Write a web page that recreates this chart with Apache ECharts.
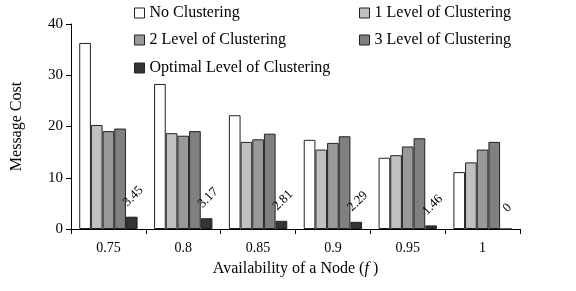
<!DOCTYPE html>
<html><head><meta charset="utf-8">
<script src="https://cdn.jsdelivr.net/npm/echarts@6/dist/echarts.min.js"></script>
<style>html,body{margin:0;padding:0;background:#fff}#c{width:576px;height:291px}</style>
</head><body><div id="c"></div>
<script>
const categories = ['0.75','0.8','0.85','0.9','0.95','1'];
const noClustering = [36.3, 28.3, 22.2, 17.4, 13.9, 11.1];
const level1 = [20.3, 18.7, 17.0, 15.5, 14.4, 13.0];
const level2 = [19.1, 18.2, 17.5, 16.8, 16.1, 15.5];
const level3 = [19.6, 19.1, 18.6, 18.1, 17.7, 17.0];
const optimal = [2.4, 2.1, 1.6, 1.4, 0.7, 0];
const optimalLabels = ['3.45','3.17','2.81','2.29','1.46','0'];
const yTicks = [0, 10, 20, 30, 40];

const FONT = '"Liberation Serif", "Times New Roman", serif';
const names = ['No Clustering','1 Level of Clustering','2 Level of Clustering','3 Level of Clustering','Optimal Level of Clustering'];
const colors = ['#ffffff','#c0c0c0','#999999','#808080','#333333'];
const datas = [noClustering, level1, level2, level3, optimal];
const legendPos = [[134,5],[359,5],[134,32],[359,32],[134,60]];

const chart = echarts.init(document.getElementById('c'));
const series = datas.map((d,i)=>({
  name: names[i], type:'bar', data: d, barGap: '0%', barCategoryGap: '22%',
  itemStyle:{color:colors[i], borderColor:'#222', borderWidth:1},
  animation:false,
  label: i===4 ? {
    show:true, position:'top', rotate:45, distance:19,
    align:'center', verticalAlign:'middle', offset:[2,0],
    fontFamily:FONT, fontSize:13, color:'#000',
    formatter: p => optimalLabels[p.dataIndex]
  } : {show:false}
}));
chart.setOption({
  animation:false,
  grid:{left:71, right:56, top:24, bottom:62},
  legend: names.map((n,i)=>({
    data:[n], left:legendPos[i][0], top:legendPos[i][1], icon:'rect',
    itemWidth:10, itemHeight:10, itemGap:5,
    itemStyle:{borderColor:'#222', borderWidth:1},
    textStyle:{fontFamily:FONT, fontSize:16, color:'#000'},
    selectedMode:false, padding:0
  })),
  xAxis:{
    type:'category', data:categories,
    axisLine:{lineStyle:{color:'#000'}},
    axisTick:{show:true, alignWithLabel:false, length:5, lineStyle:{color:'#000'}},
    axisLabel:{fontFamily:FONT, fontSize:14, color:'#000', margin:12},
    name:'Availability of a Node ({i|f} )', nameLocation:'middle', nameGap:32,
    nameTextStyle:{fontFamily:FONT, fontSize:16, color:'#000',
      rich:{i:{fontFamily:FONT, fontStyle:'italic', fontSize:16, color:'#000'}}}
  },
  yAxis:{
    type:'value', min:0, max:40, interval:10,
    axisLine:{show:true, lineStyle:{color:'#000'}},
    axisTick:{show:true, length:5, lineStyle:{color:'#000'}},
    splitLine:{show:false},
    axisLabel:{fontFamily:FONT, fontSize:15, color:'#000', margin:8,
      formatter: v => yTicks.includes(v) ? String(v) : ''},
    name:'Message Cost', nameLocation:'middle', nameGap:46,
    nameTextStyle:{fontFamily:FONT, fontSize:16, color:'#000'}
  },
  series
});
</script></body></html>
